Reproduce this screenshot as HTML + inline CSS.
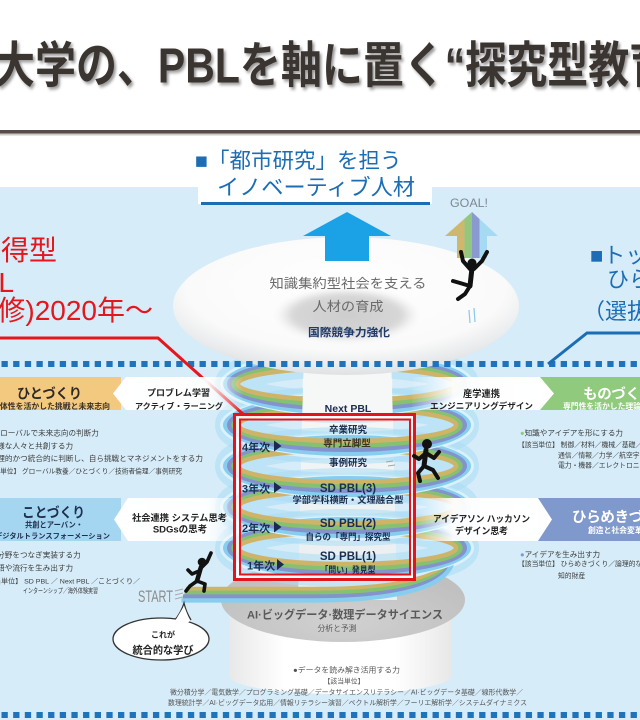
<!DOCTYPE html>
<html><head><meta charset="utf-8">
<style>
html,body{margin:0;padding:0;width:640px;height:720px;overflow:hidden;background:#fff}
svg{display:block}
text{font-family:"Liberation Sans","Noto Sans CJK JP",sans-serif}
.b{font-weight:bold}
</style></head><body>
<svg width="640" height="720" viewBox="0 0 640 720" xmlns="http://www.w3.org/2000/svg">
<defs>
 <pattern id="dots" x="1.5" y="0" width="11.65" height="10" patternUnits="userSpaceOnUse"><rect width="6.3" height="10" fill="#1f73bd"/></pattern>
 <radialGradient id="oval" cx="0.5" cy="0.36" r="0.64">
   <stop offset="0" stop-color="#ffffff"/>
   <stop offset="0.72" stop-color="#fafafa"/>
   <stop offset="1" stop-color="#dfe2e4"/>
 </radialGradient>
 <radialGradient id="inner" cx="0.5" cy="0.5" r="0.5">
   <stop offset="0" stop-color="#cdcdcd"/>
   <stop offset="0.75" stop-color="#d6d6d6"/>
   <stop offset="1" stop-color="#e6e6e6" stop-opacity="0"/>
 </radialGradient>
 <radialGradient id="grey" cx="0.5" cy="0.75" r="0.6">
   <stop offset="0" stop-color="#d1d1d1"/>
   <stop offset="1" stop-color="#c0c0c0"/>
 </radialGradient>
 <linearGradient id="cyl" x1="0" x2="1" y1="0" y2="0">
   <stop offset="0" stop-color="#e8e8e8"/><stop offset="0.25" stop-color="#ffffff"/>
   <stop offset="0.75" stop-color="#ffffff"/><stop offset="1" stop-color="#e8e8e8"/>
 </linearGradient>
 <linearGradient id="goal" x1="445" x2="498" y1="0" y2="0" gradientUnits="userSpaceOnUse">
   <stop offset="0" stop-color="#cdb86e"/><stop offset="0.368" stop-color="#cdb86e"/>
   <stop offset="0.368" stop-color="#93c77f"/><stop offset="0.509" stop-color="#93c77f"/>
   <stop offset="0.509" stop-color="#8a9ad0"/><stop offset="0.651" stop-color="#8a9ad0"/>
   <stop offset="0.651" stop-color="#a6daf3"/><stop offset="1" stop-color="#a6daf3"/>
 </linearGradient>
 <linearGradient id="wl" x1="113" x2="244" y1="0" y2="0" gradientUnits="userSpaceOnUse">
   <stop offset="0" stop-color="#fff" stop-opacity="1"/>
   <stop offset="0.72" stop-color="#fff" stop-opacity="0.95"/>
   <stop offset="1" stop-color="#fff" stop-opacity="0"/>
 </linearGradient>
 <linearGradient id="wr" x1="410" x2="554" y1="0" y2="0" gradientUnits="userSpaceOnUse">
   <stop offset="0" stop-color="#fff" stop-opacity="0"/>
   <stop offset="0.3" stop-color="#fff" stop-opacity="0.95"/>
   <stop offset="1" stop-color="#fff" stop-opacity="1"/>
 </linearGradient>
 <linearGradient id="funnel" x1="0" x2="0" y1="0" y2="1">
   <stop offset="0" stop-color="#f7f8f8"/><stop offset="1" stop-color="#e9eef0"/>
 </linearGradient>
 <filter id="blur3" x="-20%" y="-40%" width="140%" height="180%"><feGaussianBlur stdDeviation="3"/></filter>
 <filter id="tsh" x="-5%" y="-20%" width="110%" height="150%"><feDropShadow dx="2" dy="2" stdDeviation="1.4" flood-color="#000" flood-opacity="0.4"/></filter>
 <g id="glow">
   <ellipse rx="116" ry="23" fill="none" stroke="#a9dcf4" stroke-width="32" opacity="0.55"/>
   <ellipse rx="126" ry="33" fill="none" stroke="#e3f5fd" stroke-width="2" opacity="0.8"/>
 </g>
 <g id="ring" fill="none" stroke-width="4.6">
   <ellipse rx="122" ry="29" stroke="#86cdef"/>
   <ellipse rx="117.7" ry="24.7" stroke="#8393cb"/>
   <ellipse rx="113.4" ry="20.4" stroke="#86c172"/>
   <ellipse rx="109.1" ry="16.1" stroke="#cdb468"/>
   <ellipse rx="124.6" ry="31.6" stroke="#d8f1fc" stroke-width="1.2"/>
 </g>
</defs>

<!-- background -->
<rect width="640" height="720" fill="#fff"/>
<rect x="0" y="187" width="640" height="533" fill="#d6ecf8"/>
<rect x="198" y="186" width="234" height="18" fill="#fff"/>

<!-- title -->
<g transform="translate(0,70) scale(1,1.2) translate(0,-73.5)">
<text class="b" x="-6" y="84" font-size="41" fill="#3b3531" filter="url(#tsh)">大学の、PBLを軸に置く“探究型教育</text>
</g>
<rect x="0" y="130" width="640" height="3.5" fill="#574c47"/>
<rect x="0" y="133.5" width="640" height="2" fill="#b9b4b1" opacity="0.7"/>

<!-- blue headings -->
<text x="195" y="168" font-size="21.5" fill="#1b6db6">■「都市研究」を担う</text>
<text x="217" y="195" font-size="22" fill="#1b6db6" textLength="198" lengthAdjust="spacingAndGlyphs">イノベーティブ人材</text>
<rect x="201" y="202" width="229" height="3" fill="#1b6db6"/>

<!-- red left heading -->
<text x="57" y="260" font-size="28" fill="#e5161c" text-anchor="end">習得型</text>
<text x="14" y="292" font-size="28" fill="#e5161c" text-anchor="end">PBL</text>
<text x="153" y="320" font-size="28" fill="#e5161c" text-anchor="end">(必修)2020年〜</text>

<!-- right blue heading -->
<text x="590" y="263" font-size="22" fill="#1b6db6">■トップ</text>
<text x="607" y="287" font-size="22" fill="#1b6db6">ひらめき</text>
<text x="583" y="319" font-size="22" fill="#1b6db6">（選抜制）</text>

<!-- bottom cylinder + grey ellipse -->
<path d="M229,600 L229,676 A111,18 0 0 0 451,676 L451,600 Z" fill="url(#cyl)"/>
<ellipse cx="343" cy="600" rx="122" ry="42" fill="url(#grey)"/>

<!-- funnel -->
<polygon points="303,372 392,372 397,600 298,600" fill="url(#funnel)"/>

<!-- helix glow -->
<use href="#glow" x="347" y="548"/>
<use href="#glow" x="347" y="507"/>
<use href="#glow" x="347" y="466"/>
<use href="#glow" x="347" y="425"/>
<use href="#glow" x="347" y="384"/>
<!-- start path -->
<g fill="none" stroke-width="4.4">
  <path d="M186,589 L318,589 C395,589 455,578 458,546" stroke="#cdb468"/>
  <path d="M186,589 L318,589 C395,589 455,578 458,546" stroke="#86c172" transform="translate(-1.5,3.8)"/>
  <path d="M186,589 L318,589 C395,589 455,578 458,546" stroke="#8393cb" transform="translate(-3,7.6)"/>
  <path d="M186,589 L318,589 C395,589 455,578 458,546" stroke="#86cdef" transform="translate(-4.5,11.4)"/>
</g>
<!-- helix rings -->
<use href="#ring" x="347" y="548"/>
<use href="#ring" x="347" y="507"/>
<use href="#ring" x="347" y="466"/>
<use href="#ring" x="347" y="425"/>
<use href="#ring" x="347" y="384"/>
<!-- top funnel cover (rings pass behind near top) -->
<polygon points="304,360 391,360 393,421 302,421" fill="#f6f7f7"/>

<!-- top oval -->
<ellipse cx="346" cy="306" rx="173" ry="69" fill="url(#oval)"/>
<ellipse cx="347" cy="315" rx="72" ry="27" fill="url(#inner)" filter="url(#blur3)"/>
<text x="348" y="288" font-size="13.3" fill="#6a6a6a" text-anchor="middle" textLength="157" lengthAdjust="spacingAndGlyphs">知識集約型社会を支える</text>
<text x="348" y="311" font-size="13.3" fill="#6a6a6a" text-anchor="middle" textLength="71" lengthAdjust="spacingAndGlyphs">人材の育成</text>
<text class="b" x="349" y="336" font-size="11" fill="#1f3a66" text-anchor="middle" textLength="82" lengthAdjust="spacingAndGlyphs">国際競争力強化</text>

<!-- arrows -->
<polygon points="347,212 391,236 369,236 369,261 325,261 325,236 303,236" fill="#1ba1e5"/>
<polygon points="472,212 498,236 487,236 487,258 457,258 457,236 445,236" fill="url(#goal)"/>
<text x="450" y="207" font-size="12" fill="#7d8893" textLength="38" lengthAdjust="spacingAndGlyphs">GOAL!</text>

<!-- climber -->
<g fill="none" stroke="#111" stroke-width="4" stroke-linecap="round" stroke-linejoin="round">
  <circle cx="472" cy="263" r="4.5" fill="#111" stroke="none"/>
  <path d="M470,269 L463,261 L461,252"/>
  <path d="M474,269 L482,261 L487,252"/>
  <path d="M472,268 L470,286" stroke-width="5"/>
  <path d="M470,286 L460,283 L453,281"/>
  <path d="M470,286 L465,294 L458,299"/>
</g>
<g stroke="#8fcbe8" stroke-width="1.3"><line x1="469" y1="310" x2="470" y2="323"/><line x1="474" y1="308" x2="475" y2="322"/></g>

<!-- dotted lines -->
<rect x="0" y="361" width="640" height="6" fill="url(#dots)"/>
<rect x="0" y="712" width="640" height="6" fill="url(#dots)"/>

<!-- connectors -->
<polyline points="0,338 158,338 243,414" fill="none" stroke="#e5161c" stroke-width="3"/>
<polyline points="640,333 587,333 548,364" fill="none" stroke="#1b6db6" stroke-width="3"/>

<!-- left bands -->
<rect x="0" y="377" width="121" height="33" fill="#f2c97e"/>
<polygon points="113,393.5 126,377 244,377 244,410 126,410" fill="url(#wl)"/>
<rect x="0" y="498" width="121" height="43" fill="#a5d6f1"/>
<polygon points="114,519.5 128,498 244,498 244,541 128,541" fill="url(#wl)"/>
<!-- right bands -->
<rect x="540" y="377" width="100" height="33" fill="#8fca7d"/>
<polygon points="412,377 540,377 554,393.5 540,410 412,410" fill="url(#wr)"/>
<rect x="538" y="498" width="102" height="43" fill="#8099cc"/>
<polygon points="412,498 538,498 552,519.5 538,541 412,541" fill="url(#wr)"/>

<!-- left band texts -->
<text class="b" x="17" y="398.5" font-size="14" fill="#2e2a25" textLength="65" lengthAdjust="spacingAndGlyphs">ひとづくり</text>
<text class="b" x="-8" y="409" font-size="7.8" fill="#3a3128" textLength="118" lengthAdjust="spacingAndGlyphs">主体性を活かした挑戦と未来志向</text>
<text class="b" x="147" y="396" font-size="9" fill="#222" textLength="63" lengthAdjust="spacingAndGlyphs">プロブレム学習</text>
<text class="b" x="135" y="409" font-size="8" fill="#222" textLength="88" lengthAdjust="spacingAndGlyphs">アクティブ・ラーニング</text>

<g font-size="7.6" fill="#3b3b3b">
<text x="-12" y="435.5"><tspan fill="#e8a94a">●</tspan>グローバルで未来志向の判断力</text>
<text x="-15" y="448.5"><tspan fill="#e8a94a">●</tspan>多様な人々と共創する力</text>
<text x="-15" y="461" textLength="218" lengthAdjust="spacingAndGlyphs"><tspan fill="#e8a94a">●</tspan>論理的かつ統合的に判断し、自ら挑戦とマネジメントをする力</text>
</g>
<text x="-20" y="473.5" font-size="6.6" fill="#3b3b3b" textLength="202" lengthAdjust="spacingAndGlyphs">【該当単位】 グローバル教養／ひとづくり／技術者倫理／事例研究</text>

<text class="b" x="22" y="517.5" font-size="14" fill="#1f2f4f" textLength="63" lengthAdjust="spacingAndGlyphs">ことづくり</text>
<text class="b" x="25" y="527.5" font-size="7.8" fill="#1f2f4f" textLength="58" lengthAdjust="spacingAndGlyphs">共創とアーバン・</text>
<text class="b" x="-5" y="538.5" font-size="7.2" fill="#1f2f4f" textLength="115" lengthAdjust="spacingAndGlyphs">デジタルトランスフォーメーション</text>
<text class="b" x="132" y="521" font-size="9.2" fill="#222" textLength="95" lengthAdjust="spacingAndGlyphs">社会連携 システム思考</text>
<text class="b" x="180" y="532.5" font-size="9.5" fill="#222" text-anchor="middle">SDGsの思考</text>

<g font-size="7.6" fill="#3b3b3b">
<text x="-15" y="557.5"><tspan fill="#6fb9e3">●</tspan>異分野をつなぎ実装する力</text>
<text x="-15" y="570.5"><tspan fill="#6fb9e3">●</tspan>新語や流行を生み出す力</text>
</g>
<text x="-20" y="583.5" font-size="6.6" fill="#3b3b3b" textLength="160" lengthAdjust="spacingAndGlyphs">【該当単位】 SD PBL ／ Next PBL ／ことづくり／</text>
<text x="23" y="593" font-size="6.6" fill="#3b3b3b" textLength="75" lengthAdjust="spacingAndGlyphs">インターンシップ／海外体験実習</text>

<!-- right band texts -->
<text class="b" x="463" y="397" font-size="9.5" fill="#222" textLength="37" lengthAdjust="spacingAndGlyphs">産学連携</text>
<text class="b" x="430" y="409" font-size="8.6" fill="#222" textLength="103" lengthAdjust="spacingAndGlyphs">エンジニアリングデザイン</text>
<text class="b" x="583" y="399" font-size="14.5" fill="#fff" letter-spacing="-0.3">ものづくり</text>
<text class="b" x="563" y="409" font-size="7.8" fill="#fff">専門性を活かした理論と実践</text>
<text x="520" y="435.5" font-size="7.6" fill="#3b3b3b"><tspan fill="#8fca7d">●</tspan>知識やアイデアを形にする力</text>
<text x="518" y="447" font-size="6.8" fill="#3b3b3b">【該当単位】 制御／材料／機械／基礎／</text>
<text x="558" y="457.5" font-size="6.8" fill="#3b3b3b">通信／情報／力学／航空宇宙／</text>
<text x="558" y="467.5" font-size="6.8" fill="#3b3b3b">電力・機器／エレクトロニクス</text>

<text class="b" x="433" y="522" font-size="9.3" fill="#222" textLength="97" lengthAdjust="spacingAndGlyphs">アイデアソン ハッカソン</text>
<text class="b" x="455" y="534" font-size="9.3" fill="#222" textLength="53" lengthAdjust="spacingAndGlyphs">デザイン思考</text>
<text class="b" x="572" y="522" font-size="14.5" fill="#fff" letter-spacing="-0.3">ひらめきづくり</text>
<text class="b" x="588" y="533" font-size="7.8" fill="#fff">創造と社会変革</text>
<text x="520" y="557" font-size="7.6" fill="#3b3b3b"><tspan fill="#8099cc">●</tspan>アイデアを生み出す力</text>
<text x="518" y="566" font-size="6.8" fill="#3b3b3b">【該当単位】 ひらめきづくり／論理的な問題解決</text>
<text x="558" y="578" font-size="6.8" fill="#3b3b3b">知的財産</text>

<!-- helix texts -->
<g fill="#1c2d4f" font-weight="bold" text-anchor="middle">
<text x="348" y="412" font-size="10.5">Next PBL</text>
<text x="348" y="433" font-size="9.5">卒業研究</text>
<text x="347" y="446.5" font-size="9.5" fill="#3b3322">専門立脚型</text>
<text x="348" y="466" font-size="9.5">事例研究</text>
<text x="348" y="492" font-size="11.5">SD PBL(3)</text>
<text x="348" y="503" font-size="9.3" textLength="111" lengthAdjust="spacingAndGlyphs">学部学科横断・文理融合型</text>
<text x="348" y="527" font-size="11.5">SD PBL(2)</text>
<text x="348" y="540" font-size="9" textLength="85" lengthAdjust="spacingAndGlyphs">自らの「専門」探究型</text>
<text x="348" y="560" font-size="11.5">SD PBL(1)</text>
<text x="348" y="573" font-size="9" textLength="55" lengthAdjust="spacingAndGlyphs">「問い」発見型</text>
</g>
<g fill="#1c2d4f" font-weight="bold" font-size="11">
<text x="242" y="451">4年次</text>
<text x="242" y="492.5">3年次</text>
<text x="242" y="532">2年次</text>
<text x="247" y="569.5">1年次</text>
</g>
<g fill="#1a2a50">
<polygon points="274,440.5 281.5,446 274,451.5"/>
<polygon points="274,482 281.5,487.5 274,493"/>
<polygon points="274,521.5 281.5,527 274,532.5"/>
<polygon points="277,559 284,564.5 277,570"/>
</g>

<!-- red box -->
<rect x="234.5" y="414.5" width="180" height="165" fill="none" stroke="#e3141b" stroke-width="3"/>
<rect x="237.5" y="417.5" width="174" height="159" fill="none" stroke="#ffffff" stroke-width="3" opacity="0.85"/>
<rect x="240" y="419.5" width="170" height="155" fill="none" stroke="#e3141b" stroke-width="2"/>

<!-- right runner -->
<g fill="none" stroke="#111" stroke-width="4" stroke-linecap="round" stroke-linejoin="round">
  <circle cx="427" cy="444" r="5" fill="#111" stroke="none"/>
  <path d="M426,450 L424,466" stroke-width="5"/>
  <path d="M426,453 L419,459 L414,456"/>
  <path d="M426,453 L434,458 L439,452"/>
  <path d="M424,466 L418,473 L420,481"/>
  <path d="M424,466 L433,470 L438,478"/>
</g>
<g stroke="#9aa" stroke-width="1"><line x1="386" y1="462" x2="393" y2="461"/><line x1="388" y1="466" x2="395" y2="465"/></g>

<!-- START runner -->
<g fill="none" stroke="#111" stroke-width="3.6" stroke-linecap="round" stroke-linejoin="round">
  <circle cx="202" cy="562" r="4.3" fill="#111" stroke="none"/>
  <path d="M201,567 L197,581" stroke-width="4.6"/>
  <path d="M200,569 L207,562 L211,553"/>
  <path d="M199,571 L192,574 L188,570"/>
  <path d="M197,581 L205,584 L204,591"/>
  <path d="M197,581 L190,586 L186,591"/>
</g>
<text x="138" y="602" font-size="17" fill="#8c8c8c" textLength="35" lengthAdjust="spacingAndGlyphs">START</text>
<g stroke="#aaa" stroke-width="1"><line x1="175" y1="591" x2="183" y2="589"/><line x1="175" y1="595" x2="183" y2="593"/><line x1="175" y1="599" x2="183" y2="597"/></g>

<!-- bubble -->
<path d="M174,621 Q181,613 184,603 Q186,612 191,620" fill="#fff" stroke="#333" stroke-width="1.3"/>
<ellipse cx="161" cy="639" rx="48" ry="21" fill="#fff" stroke="#333" stroke-width="1.3"/>
<polygon points="175,621 184,606 190,621 186,624 178,624" fill="#fff"/>
<text class="b" x="163" y="637.5" font-size="8" fill="#222" text-anchor="middle">これが</text>
<text class="b" x="163" y="653.5" font-size="10.5" fill="#222" text-anchor="middle" textLength="61" lengthAdjust="spacingAndGlyphs">統合的な学び</text>

<!-- bottom texts -->
<text class="b" x="247" y="618.5" font-size="11.3" fill="#5a5a5a" textLength="196" lengthAdjust="spacingAndGlyphs">AI·ビッグデータ·数理データサイエンス</text>
<text x="337" y="631" font-size="7.8" fill="#555" text-anchor="middle">分析と予測</text>
<text x="293" y="672.5" font-size="7.6" fill="#555" textLength="107" lengthAdjust="spacingAndGlyphs">●データを読み解き活用する力</text>
<text x="344" y="683.5" font-size="6.8" fill="#555" text-anchor="middle">【該当単位】</text>
<text x="170" y="694.5" font-size="6.9" fill="#555" textLength="353" lengthAdjust="spacingAndGlyphs">微分積分学／電気数学／プログラミング基礎／データサイエンスリテラシー／AI·ビッグデータ基礎／線形代数学／</text>
<text x="168" y="705" font-size="6.9" fill="#555" textLength="359" lengthAdjust="spacingAndGlyphs">数理統計学／AI·ビッグデータ応用／情報リテラシー演習／ベクトル解析学／フーリエ解析学／システムダイナミクス</text>
</svg>
</body></html>
